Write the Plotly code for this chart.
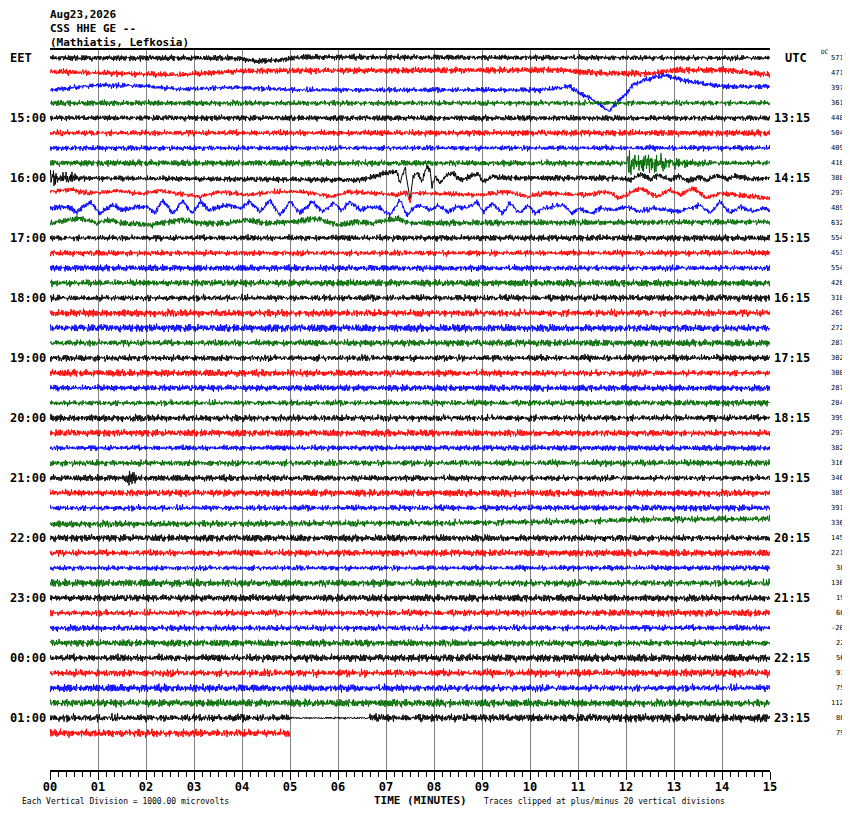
import numpy as np
import plotly.graph_objects as go

# --- labels / values read from the helicorder ---
header_lines = ["Aug23,2026", "CSS HHE GE --", "(Mathiatis, Lefkosia)"]
eet_labels = ["EET", "15:00", "16:00", "17:00", "18:00", "19:00", "20:00",
              "21:00", "22:00", "23:00", "00:00", "01:00"]
utc_labels = ["UTC", "13:15", "14:15", "15:15", "16:15", "17:15", "18:15",
              "19:15", "20:15", "21:15", "22:15", "23:15"]
dc_values = [571, 471, 397, 361, 448, 504, 409, 410, 388, 297, 489, 632,
             554, 453, 554, 420, 318, 265, 272, 287, 302, 308, 287, 284,
             399, 297, 382, 316, 346, 389, 391, 336, 145, 221, 38, 130,
             19, 60, -20, 22, 56, 91, 75, 112, 80, 79]
trace_colors = ["#000000", "#ff0000", "#0000ff", "#006a00"]
minute_labels = ["%02d" % m for m in range(16)]
trace_length = [15] * 45 + [5]   # last line stops at minute 05

# noise band half-height per line (vertical px)
noise_amp = [2.0, 2.2, 2.0, 2.0, 2.0, 2.2, 2.0, 2.2, 2.0, 2.0, 2.0, 2.2,
             2.2, 2.2, 2.2, 2.4, 2.4, 2.6, 2.6, 2.4, 2.4, 2.4, 2.2, 2.2,
             2.4, 2.4, 2.0, 2.4, 2.2, 2.4, 2.2, 2.4, 2.4, 2.4, 2.0, 2.6,
             2.4, 2.4, 2.2, 2.4, 2.6, 2.8, 2.6, 2.6, 2.8, 2.8]

# hand typed texture for the high-frequency ground noise
noise_a = [2, -3, 1, 4, -2, 0, -4, 3, -1, 2, -2, 1, -3, 4, 0, -1, 3, -4, 2, -2,
           1, 3, -3, 0, 2, -1, -4, 3, 1, -2, 4, -3, 0, 2, -1, -2, 3, -4, 1, 2,
           -3, 0, 4, -1, -2, 3, -3, 1, 0, -4, 2, 3, -2, -1, 4, -3, 1, -2, 2, 0,
           -3, 3, -1, 4, -4, 1, 2, -2, 0, 3, -3, -1, 2, -4, 4, 0, -2, 1, -3, 3,
           -1, 2, -2, 0, 4, -3, 1, -1, 3, -4, 2, 0, -2, 1, 3, -3, -1]
noise_b = [-1, 2, -2, 0, 3, -3, 1, -1, 2, -4, 3, 0, -2, 1, -1, 4, -2, 2, -3, 0,
           1, -1, 3, -2, 2, -4, 1, 0, -3, 3, -1, 2, -2, 1, -3, 4, 0, -1, 2, -2,
           3, -3, 1, -1, 0, 2, -4, 3, -2, 1, -1, 2, -3, 0, 4, -2, 1, -1, 3, -3,
           2, 0, -2, 1, -4, 3, -1, 2, -2, 0, 3, -1, -3, 2, 1, -2, 4, -3, 0, 1,
           -1, 2, -3, 3, -2, 0, 1, -1]

# slow drift of single lines: minute -> offset (px, + = down)
drift_1400_t = [0, 3.8, 4.3, 4.8, 5.2, 15]
drift_1400_v = [0, 0, 3, 2, -1, 0]
drift_1415_t = [0, 2.7, 4.0, 10.6, 11.0, 11.6, 12.6, 13.0, 14.1, 15]
drift_1415_v = [-1.3, 2, -2, -3, -1.3, 0.3, 0.3, -3, -3, 2]
drift_1430_t = [0, 1.0, 2.0, 2.7, 3.8, 5.2, 10.2, 10.83, 11.0, 11.25, 11.52,
                11.65, 11.8, 11.98, 12.15, 12.35, 12.65, 12.85, 13.02, 13.33,
                13.68, 14.02, 15]
drift_1430_v = [2, -3, -2, 1.3, -0.7, 2, 2, -1.3, 4.7, 10, 18.7, 23.7, 15, 7,
                -3, -7.3, -11.3, -12.3, -9.7, -6.3, -3.7, -1.3, -1.3]
drift_1600_t = [0, 6.46, 7.02, 7.23, 7.29, 7.40, 7.50, 7.56, 7.67, 7.75, 7.85,
                7.92, 7.96, 8.02, 8.125, 8.27, 8.40, 8.54, 8.75, 8.90, 9.02,
                9.23, 9.58, 11.8, 12.1, 12.3, 12.5, 12.7, 12.9, 13.1, 13.3,
                13.5, 13.7, 13.9, 14.1, 14.3, 14.6, 15]
drift_1600_v = [0, 2, -5, -6.3, 5, -10, 22, -1.3, -5, 3.7, -11.3, -8, 8.7,
                -1.3, 5, -3, -5, 2, -1.3, -5, 3.7, -1.3, 0, 0, 2, -4, 1, -3, 2,
                -2, 3, -1, 2, -3, 1, -2, 1, 0]
drift_1615_t = [0, 0.42, 0.83, 1.46, 1.875, 2.29, 3.125, 3.54, 4.1, 4.65,
                5.21, 5.9, 6.19, 6.73, 7.23, 7.45, 7.5, 7.55, 8.96, 9.52, 9.94,
                10.35, 11.19, 11.6, 11.875, 12.29, 12.65, 12.92, 13.125, 13.4,
                13.69, 13.96, 14.94]
drift_1615_v = [-1.3, -3.7, 0.3, -2.3, 1, -2.3, 3.7, -1.3, 2, -1, -1.3, 3.7,
                -1, 0, 2, 0, 10, 0, 2, -1.3, 3.7, 0.3, 2, -1.3, 5.3, -4.7, 3.7,
                -3, 2, -4.7, 5.3, 0.3, 5.3]
drift_1630_t = [0.00, 0.35, 0.56, 0.83, 1.04, 1.29, 1.52, 1.81, 2.02, 2.19,
                2.35, 2.56, 2.77, 2.96, 3.125, 3.33, 3.54, 3.75, 3.96, 4.17,
                4.375, 4.58, 4.79, 5.00, 5.21, 5.46, 5.69, 5.90, 6.08, 6.25,
                6.46, 6.67, 6.875, 7.08, 7.29, 7.44, 7.65, 7.75, 7.96, 8.08,
                8.27, 8.48, 8.69, 8.90, 9.02, 9.23, 9.42, 9.58, 9.79, 9.96,
                10.10, 10.27, 10.46, 10.69, 10.875, 11.04, 11.25, 11.46, 11.73,
                12.02, 12.29, 12.56, 12.85, 13.06, 13.33, 13.54, 13.75, 13.96,
                14.17, 14.375, 14.65, 14.85, 15.00]
drift_1630_v = [0, -1.3, 3.7, -6.3, 5.3, -3, 2, -1.3, -1.3, 5, -8, 5.3, -7.3,
                5.3, -6.3, 2, -1.3, -3, 0.3, -6.3, 3.7, -8, 7, -6.3, 5, -6.3,
                3.7, -5, 2, -6.3, 2, -1.3, 0, 7, -8, 7, -3, -1.3, 2, -3, 3.7,
                -1.3, 0, -6.3, 3.7, -4.7, 5.3, -4.7, 5.3, -3, 5.3, 0.3, -1.3,
                -3, 5.3, 0.3, 5.3, 0.3, 2, -1.3, 3.7, 0.3, 2, 3.7, 0.3, -3,
                5.3, -6.3, 5.3, -1.3, 3.7, 0.3, 2]
drift_1645_t = [0, 0.625, 0.98, 1.19, 1.52, 2.08, 2.71, 3.125, 3.68, 4.1,
                4.52, 5.06, 5.56, 5.98, 6.4, 6.73, 7.23, 7.5, 15]
drift_1645_v = [0.3, -4.7, 0.3, -3, 0.3, 2, -3, 0.3, 0.3, -3, 0.3, -1.3,
                -4.7, 2, -1.3, 0.3, -4.7, 0, -1.3]
drift_2045_t = [0, 8, 11, 12.5, 15]
drift_2045_v = [1, 0, -1.5, -3.5, -4]
drift = {0: (drift_1400_t, drift_1400_v), 1: (drift_1415_t, drift_1415_v),
         2: (drift_1430_t, drift_1430_v), 8: (drift_1600_t, drift_1600_v),
         9: (drift_1615_t, drift_1615_v), 10: (drift_1630_t, drift_1630_v),
         11: (drift_1645_t, drift_1645_v), 31: (drift_2045_t, drift_2045_v)}

# bursts / quiet spells: minute -> noise half-height
burst_1545_t = [0, 12.0, 12.05, 12.6, 13.0, 13.5, 15]
burst_1545_v = [2.2, 2.2, 9, 7, 5, 2.2, 2.2]
burst_1600_t = [0, 0.4, 0.6, 15]
burst_1600_v = [6, 5, 2.0, 2.0]
burst_2100_t = [0, 1.55, 1.6, 1.75, 1.8, 15]
burst_2100_v = [2.2, 2.2, 5, 4.5, 2.2, 2.2]
burst_0100_t = [0, 4.95, 5.0, 6.6, 6.65, 15]
burst_0100_v = [2.8, 2.8, 0.8, 0.8, 2.8, 2.8]
bursts = {7: (burst_1545_t, burst_1545_v), 8: (burst_1600_t, burst_1600_v),
          28: (burst_2100_t, burst_2100_v), 44: (burst_0100_t, burst_0100_v)}

# --- geometry (px, as seen on the page; the page body adds an 8 px offset) ---
PAGE_OFF = 8
W, H = 850 - PAGE_OFF, 814 - PAGE_OFF
L, T = 50 - PAGE_OFF, 50 - PAGE_OFF
PW, PH = 720, 720
R, B = W - L - PW, H - T - PH
row_gap, first_row = 15, 8
steps_per_min = 96
mono = "DejaVu Sans Mono"


def px_x(px):
    return (px - PAGE_OFF - L) / PW


def px_y(py):
    return 1 - (py - PAGE_OFF - T) / PH


fig = go.Figure()
na, nb = np.array(noise_a, float), np.array(noise_b, float)
for i, dc in enumerate(dc_values):
    x = np.arange(trace_length[i] * steps_per_min + 1) / steps_per_min
    k = np.arange(len(x))
    tex = (na[(k + 37 * i) % len(na)] + 0.7 * nb[(3 * k + 53 * i) % len(nb)]) / 4
    amp = np.interp(x, *bursts[i]) if i in bursts else noise_amp[i]
    base = np.interp(x, *drift[i]) if i in drift else 0
    y = first_row + row_gap * i + base + tex * amp
    fig.add_trace(go.Scatter(x=x, y=y, mode="lines", hoverinfo="skip",
                             line=dict(color=trace_colors[i % 4], width=1)))

ann = []
for j in range(len(eet_labels)):
    py = 50 + first_row + row_gap * 4 * j
    if j == 0:
        ann.append(dict(x=px_x(8), y=px_y(py), text=eet_labels[j], xanchor="left",
                        font=dict(size=12, weight="bold")))
        ann.append(dict(x=px_x(783), y=px_y(py), text=utc_labels[j], xanchor="left",
                        font=dict(size=12, weight="bold")))
    else:
        ann.append(dict(x=px_x(48), y=px_y(py), text=eet_labels[j], xanchor="right",
                        font=dict(size=12, weight="bold")))
        ann.append(dict(x=px_x(772), y=px_y(py), text=utc_labels[j], xanchor="left",
                        font=dict(size=12, weight="bold")))
for i, dc in enumerate(dc_values):
    py = 50 + first_row + row_gap * i
    ann.append(dict(x=px_x(846), y=px_y(py), text=str(dc), xanchor="right",
                    font=dict(size=7)))
ann.append(dict(x=px_x(831), y=px_y(51), text="DC", xanchor="right", font=dict(size=6)))
for j, line in enumerate(header_lines):
    ann.append(dict(x=px_x(49), y=px_y(15 + 13.5 * j), text=line, xanchor="left",
                    borderpad=0, font=dict(size=11, weight="bold")))
ann.append(dict(x=px_x(421), y=px_y(800), text="TIME (MINUTES)",
                font=dict(size=11, weight="bold")))
ann.append(dict(x=px_x(20), y=px_y(801), text="Each Vertical Division = 1000.00 microvolts",
                xanchor="left", font=dict(size=8)))
ann.append(dict(x=px_x(482), y=px_y(801),
                text="Traces clipped at plus/minus 20 vertical divisions",
                xanchor="left", font=dict(size=8)))
for a in ann:
    a.update(xref="paper", yref="paper", showarrow=False, yanchor="middle")
    a["font"].update(family=mono, color="black")

fig.update_layout(
    width=W, height=H, margin=dict(l=L, r=R, t=T, b=B),
    paper_bgcolor="white", plot_bgcolor="white", showlegend=False,
    annotations=ann,
    xaxis=dict(range=[0, 15], tickvals=list(range(16)), ticktext=minute_labels,
               ticks="outside", ticklen=8, tickwidth=1, tickcolor="black",
               ticklabelstandoff=-3,
               showline=True, linecolor="black", linewidth=1.5, mirror=True,
               showgrid=True, gridcolor="#808080", gridwidth=1.3, zeroline=False,
               tickfont=dict(family=mono, size=12, color="black", weight="bold"),
               minor=dict(dtick=1 / 6, tick0=0, ticks="outside", ticklen=5,
                          tickcolor="black", showgrid=False)),
    yaxis=dict(range=[PH, 0], visible=False, showgrid=False, zeroline=False),
)
fig.write_html("out.html")
